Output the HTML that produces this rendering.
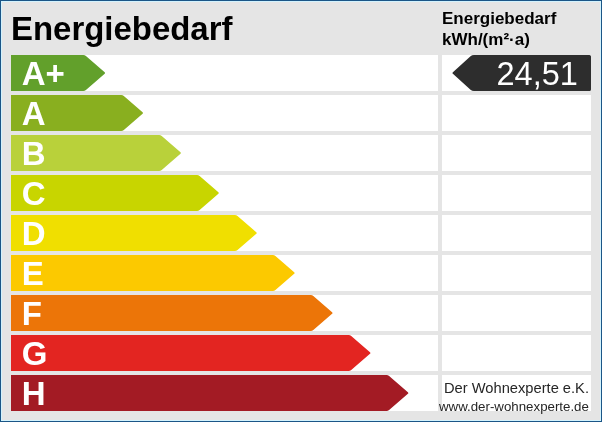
<!DOCTYPE html>
<html><head><meta charset="utf-8"><style>
html,body{margin:0;padding:0;}
body{width:602px;height:422px;overflow:hidden;background:#e5e5e5;}
svg{display:block;will-change:transform;}
text{font-family:"Liberation Sans",Arial,sans-serif;}
.lbl{font-weight:bold;font-size:33px;fill:#fff;}
.title{font-weight:bold;font-size:32.95px;fill:#000;}
.hdr{font-weight:bold;font-size:17px;fill:#000;}
.val{font-size:32.5px;fill:#fff;}
.ft{font-size:14px;fill:#262626;}
</style></head><body>
<svg width="602" height="422" viewBox="0 0 602 422">
<rect x="0" y="0" width="602" height="422" fill="#e5e5e5"/>
<rect x="0.5" y="0.5" width="601" height="421" fill="none" stroke="#1b5687" stroke-width="1"/>
<rect x="1.5" y="1.5" width="599" height="419" fill="none" stroke="#d3f3fe" stroke-width="1"/>
<text x="11" y="40" class="title">Energiebedarf</text>
<text x="442" y="23.5" class="hdr">Energiebedarf</text>
<text x="442" y="44.5" class="hdr">kWh/(m²·a)</text>
<rect x="11" y="55" width="427" height="36" fill="#fff"/>
<rect x="442" y="55" width="149" height="36" fill="#fff"/>
<path d="M11.00,55.00 L83.30,55.00 Q84.80,55.00 85.93,55.98 L104.69,72.21 Q105.60,73.00 104.69,73.79 L85.93,90.02 Q84.80,91.00 83.30,91.00 L11.00,91.00 Z" fill="#62a02b"/>
<text x="21.7" y="85" class="lbl">A+</text>
<rect x="11" y="95" width="427" height="36" fill="#fff"/>
<rect x="442" y="95" width="149" height="36" fill="#fff"/>
<path d="M11.00,95.00 L121.20,95.00 Q122.70,95.00 123.83,95.98 L142.59,112.21 Q143.50,113.00 142.59,113.79 L123.83,130.02 Q122.70,131.00 121.20,131.00 L11.00,131.00 Z" fill="#89af1f"/>
<text x="21.7" y="125" class="lbl">A</text>
<rect x="11" y="135" width="427" height="36" fill="#fff"/>
<rect x="442" y="135" width="149" height="36" fill="#fff"/>
<path d="M11.00,135.00 L159.10,135.00 Q160.60,135.00 161.73,135.98 L180.49,152.21 Q181.40,153.00 180.49,153.79 L161.73,170.02 Q160.60,171.00 159.10,171.00 L11.00,171.00 Z" fill="#b9d13a"/>
<text x="21.7" y="165" class="lbl">B</text>
<rect x="11" y="175" width="427" height="36" fill="#fff"/>
<rect x="442" y="175" width="149" height="36" fill="#fff"/>
<path d="M11.00,175.00 L197.00,175.00 Q198.50,175.00 199.63,175.98 L218.39,192.21 Q219.30,193.00 218.39,193.79 L199.63,210.02 Q198.50,211.00 197.00,211.00 L11.00,211.00 Z" fill="#c8d500"/>
<text x="21.7" y="205" class="lbl">C</text>
<rect x="11" y="215" width="427" height="36" fill="#fff"/>
<rect x="442" y="215" width="149" height="36" fill="#fff"/>
<path d="M11.00,215.00 L234.90,215.00 Q236.40,215.00 237.53,215.98 L256.29,232.21 Q257.20,233.00 256.29,233.79 L237.53,250.02 Q236.40,251.00 234.90,251.00 L11.00,251.00 Z" fill="#f0df00"/>
<text x="21.7" y="245" class="lbl">D</text>
<rect x="11" y="255" width="427" height="36" fill="#fff"/>
<rect x="442" y="255" width="149" height="36" fill="#fff"/>
<path d="M11.00,255.00 L272.80,255.00 Q274.30,255.00 275.43,255.98 L294.19,272.21 Q295.10,273.00 294.19,273.79 L275.43,290.02 Q274.30,291.00 272.80,291.00 L11.00,291.00 Z" fill="#fcc900"/>
<text x="21.7" y="285" class="lbl">E</text>
<rect x="11" y="295" width="427" height="36" fill="#fff"/>
<rect x="442" y="295" width="149" height="36" fill="#fff"/>
<path d="M11.00,295.00 L310.70,295.00 Q312.20,295.00 313.33,295.98 L332.09,312.21 Q333.00,313.00 332.09,313.79 L313.33,330.02 Q312.20,331.00 310.70,331.00 L11.00,331.00 Z" fill="#ec7508"/>
<text x="21.7" y="325" class="lbl">F</text>
<rect x="11" y="335" width="427" height="36" fill="#fff"/>
<rect x="442" y="335" width="149" height="36" fill="#fff"/>
<path d="M11.00,335.00 L348.60,335.00 Q350.10,335.00 351.23,335.98 L369.99,352.21 Q370.90,353.00 369.99,353.79 L351.23,370.02 Q350.10,371.00 348.60,371.00 L11.00,371.00 Z" fill="#e32521"/>
<text x="21.7" y="365" class="lbl">G</text>
<rect x="11" y="375" width="427" height="36" fill="#fff"/>
<rect x="442" y="375" width="149" height="36" fill="#fff"/>
<path d="M11.00,375.00 L386.50,375.00 Q388.00,375.00 389.13,375.98 L407.89,392.21 Q408.80,393.00 407.89,393.79 L389.13,410.02 Q388.00,411.00 386.50,411.00 L11.00,411.00 Z" fill="#a31b24"/>
<text x="21.7" y="405" class="lbl">H</text>
<path d="M452.89,73.80 Q452.00,73.00 452.89,72.20 L470.51,56.34 Q472.00,55.00 474.00,55.00 L589.50,55.00 Q591.00,55.00 591.00,56.50 L591.00,89.50 Q591.00,91.00 589.50,91.00 L474.00,91.00 Q472.00,91.00 470.51,89.66 Z" fill="#2d2d2d"/>
<text x="496.5" y="85" class="val">24,51</text>
<text x="444" y="392.6" class="ft" textLength="145.0" lengthAdjust="spacingAndGlyphs">Der Wohnexperte e.K.</text>
<text x="439" y="410.5" class="ft" style="font-size:13px" textLength="149.9" lengthAdjust="spacingAndGlyphs">www.der-wohnexperte.de</text>
</svg>
</body></html>
